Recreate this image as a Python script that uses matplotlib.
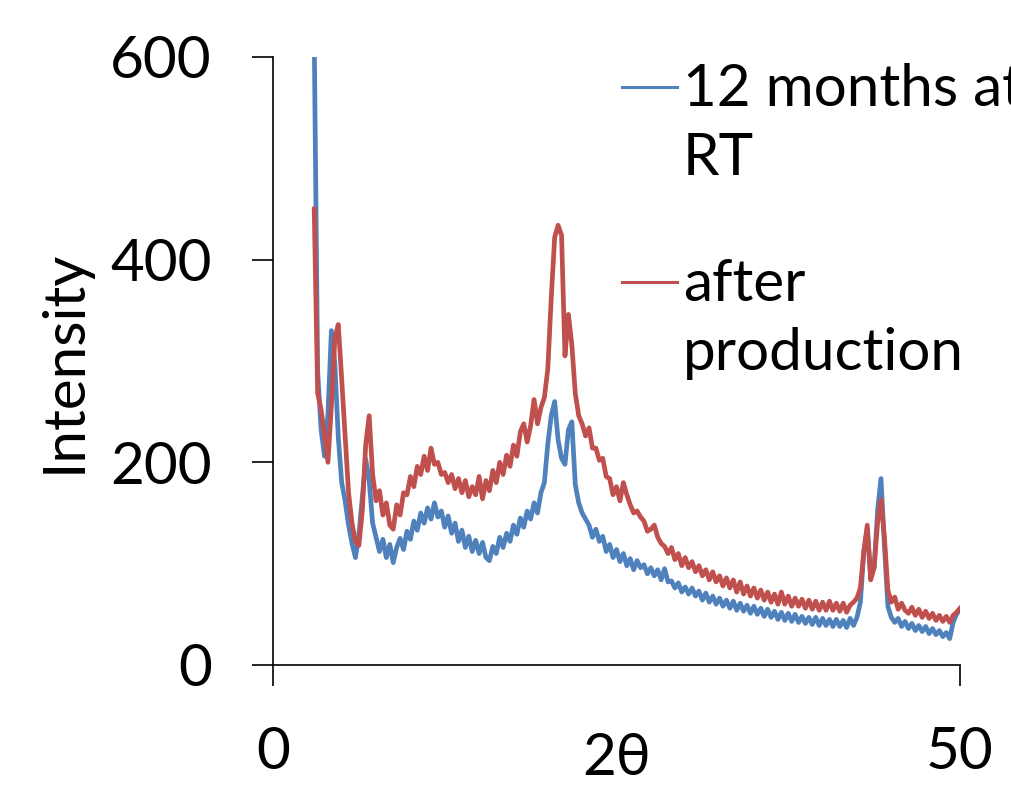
import numpy as np
import matplotlib
matplotlib.use("Agg")
import matplotlib.pyplot as plt
from matplotlib.lines import Line2D

plt.rcParams['font.family'] = ['Lato', 'DejaVu Sans']

# 2theta grid, 3.0 .. 50.0 in steps of 0.25
two_theta = np.round(np.arange(3.0, 50.001, 0.25), 2)

# 12 months at RT
months_12_rt = [
    620, 290, 232, 206, 248, 330, 298, 225,
    180, 162, 138, 120, 106, 128, 165, 203,
    182, 140, 126, 112, 124, 106, 119, 101,
    116, 125, 114, 132, 124, 142, 133, 150,
    140, 155, 144, 160, 146, 152, 136, 147,
    130, 140, 122, 133, 116, 127, 112, 123,
    110, 121, 106, 103, 117, 110, 126, 116,
    130, 122, 138, 129, 145, 136, 152, 144,
    160, 150, 170, 180, 218, 246, 260, 222,
    204, 198, 232, 240, 178, 160, 150, 144,
    138, 126, 134, 122, 127, 112, 119, 106,
    114, 102, 110, 98, 105, 94, 103, 96,
    99, 90, 96, 88, 94, 84, 95, 82,
    83, 76, 81, 72, 77, 70, 76, 68,
    73, 64, 71, 62, 68, 60, 66, 58,
    64, 56, 63, 54, 61, 53, 59, 51,
    58, 50, 56, 48, 55, 47, 53, 45,
    52, 44, 51, 43, 50, 42, 48, 41,
    47, 40, 47, 39, 46, 39, 45, 38,
    45, 38, 44, 37, 46, 39, 47, 62,
    112, 134, 88, 96, 152, 184, 118, 58,
    47, 42, 46, 38, 43, 36, 41, 34,
    39, 33, 38, 31, 36, 30, 34, 28,
    32, 26, 42, 50, 55,
]

# after production
after_production = [
    450, 268, 252, 226, 200, 256, 322, 336,
    282, 226, 170, 140, 122, 118, 152, 218,
    246, 188, 162, 172, 148, 160, 138, 134,
    158, 148, 170, 168, 186, 176, 196, 188,
    206, 192, 214, 198, 200, 188, 190, 180,
    188, 174, 184, 170, 182, 166, 176, 168,
    186, 164, 182, 172, 192, 180, 200, 188,
    207, 196, 217, 206, 230, 238, 220, 236,
    262, 238, 254, 264, 292, 362, 422, 434,
    424, 305, 346, 316, 268, 246, 238, 226,
    234, 214, 214, 202, 204, 186, 184, 168,
    176, 162, 180, 168, 158, 150, 152, 146,
    142, 132, 134, 138, 126, 120, 117, 110,
    116, 104, 110, 98, 106, 96, 102, 92,
    98, 88, 94, 84, 92, 82, 88, 78,
    86, 76, 84, 72, 82, 70, 78, 68,
    76, 66, 74, 64, 72, 62, 70, 60,
    72, 60, 68, 58, 66, 58, 65, 56,
    64, 55, 63, 54, 62, 54, 63, 54,
    61, 53, 61, 52, 59, 62, 66, 76,
    112, 138, 84, 96, 140, 163, 126, 74,
    62, 67, 55, 61, 54, 51, 57, 49,
    55, 47, 53, 46, 51, 44, 49, 43,
    48, 42, 49, 52, 56,
]

labels = ["12 months at\nRT", "after\nproduction"]
colors = ["#4F81BD", "#C0504D"]

FS = 42

fig = plt.figure(figsize=(10.12, 7.95), dpi=100)
ax = fig.add_axes([273 / 1012, 130 / 795, 687 / 1012, 608 / 795])

ax.plot(two_theta, months_12_rt, color=colors[0], lw=3.4)
ax.plot(two_theta, after_production, color=colors[1], lw=3.4)

ax.set_xlim(0, 50)
ax.set_ylim(0, 600)
ax.set_xticks([0, 50])
ax.set_yticks([0, 200, 400, 600])
ax.tick_params(direction='out', length=15, width=1.2, pad=29, labelsize=FS, colors='black')
for s in ['top', 'right']:
    ax.spines[s].set_visible(False)
for s in ['left', 'bottom']:
    ax.spines[s].set_linewidth(1.2)

ax.set_xlabel("2θ", fontsize=FS)
ax.xaxis.set_label_coords(0.5, -0.11)
ax.set_ylabel("Intensity", fontsize=FS)
ax.yaxis.set_label_coords(-0.265, 0.5)

# legend drawn by hand: handle lines up with the first text line
W, H = 1012, 795
legend_rows = [87, 282]
for lab, col, yp in zip(labels, colors, legend_rows):
    fig.add_artist(Line2D([622 / W, 677 / W], [1 - yp / H, 1 - yp / H], color=col, lw=2.2))
    fig.text(683 / W, 1 - (yp - 24) / H, lab, fontsize=FS, va='top', ha='left',
             linespacing=1.38)

fig.savefig("out.png", dpi=100)
